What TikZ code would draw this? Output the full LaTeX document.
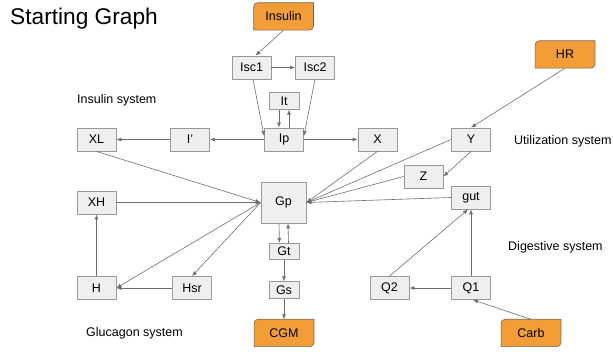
\documentclass[tikz,border=0pt]{standalone}
\usepackage{fontspec}
\setmainfont{Liberation Sans}
\usetikzlibrary{arrows.meta,backgrounds}
\definecolor{boxfill}{HTML}{EFEFEF}
\definecolor{boxline}{HTML}{999999}
\definecolor{srcfill}{HTML}{F29D38}
\definecolor{srcline}{HTML}{7A6548}
\definecolor{edge}{HTML}{6E6E6E}
\begin{document}
\begin{tikzpicture}[x=1pt, y=-1pt,
    var/.style={draw=boxline, fill=boxfill, line width=0.8pt, inner sep=0pt,
        minimum width=39pt, minimum height=23pt, font=\fontsize{12.5}{14}\selectfont},
    small/.style={var, minimum width=30pt, minimum height=16.5pt},
    src/.style={inner sep=0pt, minimum width=59.5pt, minimum height=27pt,
        font=\fontsize{12.5}{14}\selectfont},
    flow/.style={draw=edge, line width=0.6pt, -{Latex[length=5pt,width=4pt]}},
    sys/.style={anchor=west, inner sep=0pt, font=\fontsize{12.5}{14}\selectfont}]
    \useasboundingbox (0, 0) rectangle (613, 352);

    \node[anchor=west, inner sep=0pt, font=\fontsize{22.7}{26}\selectfont] (title) at (10, 19) {Starting Graph};

    \node[src] (insulin) at (283.5, 16.5) {Insulin};
    \node[src] (hr) at (565, 54.5) {HR};
    \node[src] (cgm) at (284, 333) {CGM};
    \node[src] (carb) at (531, 333) {Carb};

    \node[var] (isc1) at (251.5, 67.5) {Isc1};
    \node[var] (isc2) at (315, 67.5) {Isc2};
    \node[small] (it) at (284, 101) {It};
    \node[var] (ip) at (284, 139.5) {Ip};
    \node[var] (iprime) at (190, 139.5) {I’};
    \node[var] (xl) at (96.5, 139.5) {XL};
    \node[var] (x) at (377.5, 139.5) {X};
    \node[var] (y) at (471, 139.5) {Y};
    \node[var] (z) at (423.5, 176.5) {Z};
    \node[var] (gut) at (471, 197.5) {gut};
    \node[var, minimum width=45pt, minimum height=41pt] (gp) at (283.5, 202.5) {Gp};
    \node[var] (xh) at (96.5, 202.5) {XH};
    \node[small] (gt) at (284, 251.5) {Gt};
    \node[small] (gs) at (284, 290) {Gs};
    \node[var] (h) at (96.5, 288) {H};
    \node[var] (hsr) at (192, 288) {Hsr};
    \node[var] (q2) at (389.5, 288) {Q2};
    \node[var] (q1) at (471, 288) {Q1};

    \node[sys] (inslabel) at (77, 100) {Insulin system};
    \node[sys] (utillabel) at (514, 141) {Utilization system};
    \node[sys] (diglabel) at (508, 247) {Digestive system};
    \node[sys] (gluclabel) at (86, 333) {Glucagon system};

    \begin{scope}[on background layer]
        \foreach \n in {insulin, hr, cgm, carb}
            \draw[fill=srcfill, draw=srcline, line width=0.6pt]
                (\n.south west) -- ([yshift=-4pt]\n.north west)
                arc[start angle=180, end angle=90, radius=4pt]
                -- (\n.north east) -- ([yshift=4pt]\n.south east)
                arc[start angle=0, end angle=-90, radius=4pt] -- cycle;
    \end{scope}

    \draw[flow] (insulin.south) -- ([xshift=4pt]isc1.north);
    \draw[flow] (isc1) -- (isc2);
    \draw[flow] ([xshift=1.5pt]isc1.south) -- ([yshift=3.5pt]ip.west);
    \draw[flow] (isc2.south) -- ([yshift=3.5pt]ip.east);
    \draw[flow] ([xshift=-5pt]it.south) -- ([xshift=-5pt]ip.north);
    \draw[flow] ([xshift=5pt]ip.north) -- ([xshift=5pt]it.south);
    \draw[flow] (ip) -- (iprime);
    \draw[flow] (iprime) -- (xl);
    \draw[flow] (ip) -- (x);

    \draw[flow] (xl.south) -- (gp.west);
    \draw[flow] (xh) -- (gp);
    \draw[flow] (gp.west) -- (h.east);
    \draw[flow] (gp.west) -- (hsr.north);
    \draw[flow] (hsr) -- (h);
    \draw[flow] (h) -- (xh);

    \draw[flow] ([xshift=-4.5pt]gp.south) -- ([xshift=-4.5pt]gt.north);
    \draw[flow] ([xshift=4.5pt]gt.north) -- ([xshift=4.5pt]gp.south);
    \draw[flow] (gt) -- (gs);
    \draw[flow] (gs) -- (cgm);

    \draw[flow] (x.south) -- (gp.east);
    \draw[flow] (y.west) -- (gp.east);
    \draw[flow] (z.west) -- (gp.east);
    \draw[flow] (gut.west) -- (gp.east);
    \draw[flow] (hr.south) -- (y.north);
    \draw[flow] (y.south) -- (z.east);

    \draw[flow] (q1) -- (gut);
    \draw[flow] (q2.north) -- ([xshift=-3pt]gut.south);
    \draw[flow] (q1) -- (q2);
    \draw[flow] (carb.north) -- ([xshift=2pt]q1.south);
\end{tikzpicture}
\end{document}
